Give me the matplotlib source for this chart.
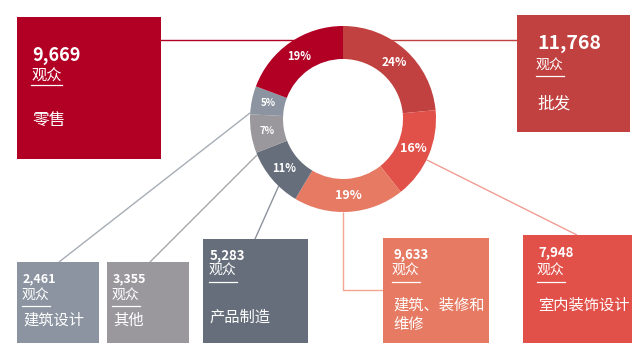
import matplotlib
matplotlib.use("Agg")
import matplotlib.pyplot as plt

plt.rcParams['font.family'] = ['Noto Sans CJK SC', 'DejaVu Sans']

# --- 数据 ---
sectors = ["批发", "室内装饰设计", "建筑、装修和\n维修", "产品制造", "其他", "建筑设计", "零售"]
visitors = [11768, 7948, 9633, 5283, 3355, 2461, 9669]
pct_labels = ["24%", "16%", "19%", "11%", "7%", "5%", "19%"]
colors = ["#C0413F", "#E1514A", "#E67A63", "#666E7B", "#9A989D", "#8B94A0", "#B20025"]
line_colors = ["#C0413F", "#F09C92", "#F2A593", "#8C929C", "#A9A9AC", "#A7ADB5", "#B20025"]

# --- 版面 (像素坐标, 左上为原点) ---
W, H = 640, 352
center = (343, 119)
r_out, ring = 93, 33

# box: (left, top, right, bottom)
boxes = [(517, 15, 630, 132), (523, 235, 632, 343), (383, 238, 489, 343),
         (203, 239, 308, 343), (107, 262, 189, 343), (17, 262, 99, 343),
         (17, 17, 161, 159)]
# text: (x, y_num, y_guan, y_name, size_num, size_guan, size_name)
texts = [(537, 34, 59, 96, 14, 10, 12), (538, 246, 264, 297, 9.5, 10, 11),
         (393, 248, 264, 297, 9.5, 10, 11), (210, 249, 264, 309, 9.5, 10, 11),
         (113, 272, 289, 312, 9, 10, 11), (23, 272, 289, 312, 9, 10, 11),
         (32, 46, 68, 112, 13, 11, 12)]
underline_y = [76, 282, 282, 282, 306, 306, 85]
connectors = [[(343, 40), (518, 40)], [(427, 160), (577, 235)],
              [(343, 212), (343, 290), (383, 290)], [(280, 183), (255, 239)],
              [(257, 155), (150, 262)], [(250, 113), (59, 262)],
              [(160, 40), (343, 40)]]
pct_sizes = [8.5, 9, 9, 8, 7, 7, 8]

fig = plt.figure(figsize=(W / 100, H / 100), dpi=100)
ax = fig.add_axes([0, 0, 1, 1])

# 连接线 (在圆环下方)
for pts, c in zip(connectors, line_colors):
    xs, ys = zip(*pts)
    ax.plot(xs, ys, color=c, lw=1.0, zorder=1, solid_capstyle='butt')

# 圆环 (y 轴反转, 所以逆时针 = 视觉上顺时针)
wedges, labels = ax.pie(visitors, colors=colors, startangle=-90, counterclock=True,
                        center=center, radius=r_out, labels=pct_labels,
                        labeldistance=(r_out - ring / 2) / r_out,
                        wedgeprops=dict(width=ring, linewidth=0, zorder=2),
                        textprops=dict(color="white", fontweight="bold",
                                       ha="center", va="center"))
for t, s in zip(labels, pct_sizes):
    t.set_fontsize(s)
    t.set_zorder(3)

# 方块与文字
for (l, t, r, b), (x, yn, yg, ym, sn, sg, sm), col, num, name, uy in zip(
        boxes, texts, colors, visitors, sectors, underline_y):
    ax.add_patch(plt.Rectangle((l, t), r - l, b - t, color=col, lw=0, zorder=2))
    ax.text(x, yn, f"{num:,}", color="white", fontsize=sn, fontweight="bold",
            va="top", ha="left", zorder=3)
    ax.text(x - 1, yg, "观众", color="white", fontsize=sg, va="top", ha="left", zorder=3)
    ax.text(x, ym, name, color="white", fontsize=sm, va="top", ha="left",
            linespacing=1.15, zorder=3)
    gw = sg * 2 * 100 / 72
    ax.plot([x - 1, x - 1 + gw], [uy, uy], color="white", lw=0.9, zorder=3)

ax.set_xlim(0, W)
ax.set_ylim(H, 0)
ax.set_aspect('equal')
ax.axis('off')

fig.savefig("out.png", dpi=100, facecolor="white")
